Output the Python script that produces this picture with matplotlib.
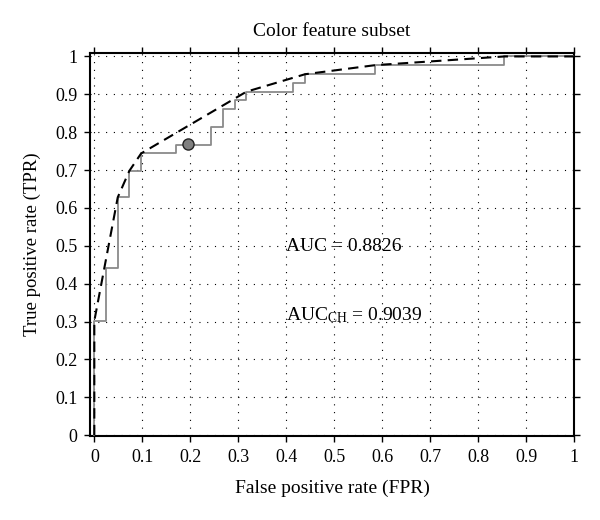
import matplotlib
matplotlib.use("Agg")
import matplotlib.pyplot as plt

plt.rcParams.update({
    "font.family": "Liberation Serif",
    "mathtext.fontset": "custom",
    "mathtext.rm": "Liberation Serif",
    "mathtext.it": "Liberation Serif:italic",
    "font.size": 12,
})

# empirical ROC step points (FPR, TPR)
roc_fpr = [0.0, 0.0, 0.0244, 0.0244, 0.0488, 0.0488, 0.073, 0.073, 0.0976, 0.0976,
           0.171, 0.171, 0.244, 0.244, 0.268, 0.268, 0.293, 0.293, 0.317, 0.317,
           0.415, 0.415, 0.439, 0.439, 0.585, 0.585, 0.854, 0.854, 1.0]
roc_tpr = [0.0, 0.302, 0.302, 0.442, 0.442, 0.628, 0.628, 0.698, 0.698, 0.744,
           0.744, 0.767, 0.767, 0.814, 0.814, 0.860, 0.860, 0.884, 0.884, 0.907,
           0.907, 0.930, 0.930, 0.953, 0.953, 0.977, 0.977, 1.0, 1.0]

# convex hull vertices
hull_fpr = [0.0, 0.0, 0.0488, 0.073, 0.0976, 0.317, 0.439, 0.585, 0.854, 1.0]
hull_tpr = [0.0, 0.302, 0.628, 0.698, 0.744, 0.907, 0.953, 0.977, 1.0, 1.0]

# operating point
op_fpr = [0.195]
op_tpr = [0.768]

ticks = [0, 0.1, 0.2, 0.3, 0.4, 0.5, 0.6, 0.7, 0.8, 0.9, 1]
tick_labels = ["0", "0.1", "0.2", "0.3", "0.4", "0.5", "0.6", "0.7", "0.8", "0.9", "1"]

fig = plt.figure(figsize=(6, 5.2), dpi=100)
ax = fig.add_axes([0.15, 0.1615, 0.807, 0.7365])

ax.plot(roc_fpr, roc_tpr, color="#8a8a8a", linewidth=1.3, zorder=3)
ax.plot(hull_fpr, hull_tpr, color="black", linewidth=1.5,
        linestyle=(0, (5, 3)), zorder=4)
ax.plot(op_fpr, op_tpr, "o", markersize=8, markerfacecolor="#808080",
        markeredgecolor="#222222", markeredgewidth=1.0, zorder=5)

ax.set_xlim(-0.009, 1.0)
ax.set_ylim(-0.002, 1.009)
ax.set_xticks(ticks)
ax.set_yticks(ticks)
ax.set_xticklabels(tick_labels)
ax.set_yticklabels(tick_labels)
ax.tick_params(direction="out", length=4, width=1.0, top=True, right=True,
               labelsize=13, pad=5)
ax.grid(True, color="black", linestyle=(0, (1, 6)), linewidth=0.8)
for s in ax.spines.values():
    s.set_linewidth(1.5)

ax.text(0.40, 0.497, "AUC = 0.8826", fontsize=14, va="center")
ax.text(0.40, 0.317, r"AUC$_{\rm CH}$ = 0.9039", fontsize=14, va="center")

ax.set_title("Color feature subset", fontsize=14, pad=12)
ax.set_xlabel("False positive rate (FPR)", fontsize=14, labelpad=10)
ax.set_ylabel("True positive rate (TPR)", fontsize=13.5, labelpad=10)

fig.savefig("out.png", dpi=100, facecolor="white")
